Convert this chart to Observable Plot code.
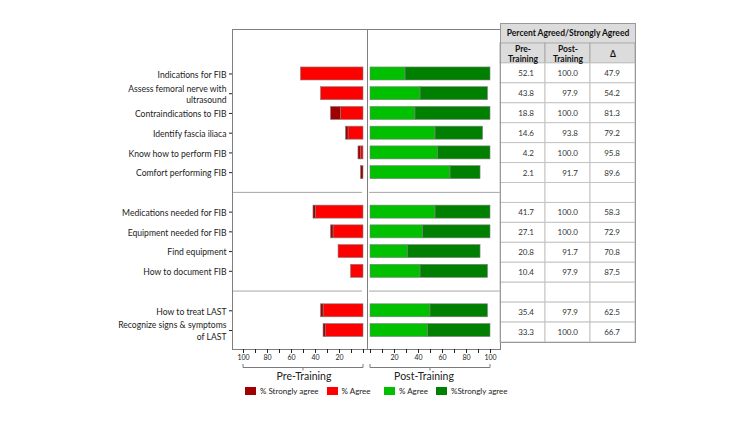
<!DOCTYPE html>
<html>
<head>
<meta charset="utf-8">
<script src="https://cdn.jsdelivr.net/npm/d3@7"></script>
<script src="https://cdn.jsdelivr.net/npm/@observablehq/plot@0.6"></script>
<style>
  html, body { margin: 0; padding: 0; background: #fff; }
  #wrap { position: relative; width: 750px; height: 422px; overflow: hidden; font-family: Lato, "Open Sans", sans-serif; }
  #wrap > * { position: absolute; margin: 0; }
</style>
</head>
<body>
<div id="wrap"></div>
<script>
// ---------- data ----------
const items = [
  "Indications for FIB",
  "Assess femoral nerve with\nultrasound",
  "Contraindications to FIB",
  "Identify fascia iliaca",
  "Know how to perform FIB",
  "Comfort performing FIB",
  "Medications needed for FIB",
  "Equipment needed for FIB",
  "Find equipment",
  "How to document FIB",
  "How to treat LAST",
  "Recognize signs & symptoms\nof LAST"
];
const sections = [1, 1, 1, 1, 1, 1, 2, 2, 2, 2, 3, 3];

// bar values (percent of respondents)
const preAgree      = [52.1, 35.4, 18.8, 12.5, 2.1, 0.0, 39.6, 25.0, 20.8, 10.4, 33.3, 31.2];
const preStrongly   = [0.0, 0.0, 8.3, 2.1, 2.1, 2.1, 2.1, 2.1, 0.0, 0.0, 2.1, 2.1];
const postAgree     = [29.2, 41.7, 37.5, 54.2, 56.2, 66.7, 54.2, 43.8, 31.2, 41.7, 50.0, 47.9];
const postStrongly  = [70.8, 56.2, 62.5, 39.6, 43.8, 25.0, 45.8, 56.2, 60.5, 56.2, 47.9, 52.1];

// table values
const tableTitle = "Percent Agreed/Strongly Agreed";
const tableCols = ["pre", "post", "delta"];
const tableHeads = ["Pre-\nTraining", "Post-\nTraining", "\u0394"];
const tablePre   = [52.1, 43.8, 18.8, 14.6, 4.2, 2.1, 41.7, 27.1, 20.8, 10.4, 35.4, 33.3];
const tablePost  = [100.0, 97.9, 100.0, 93.8, 100.0, 91.7, 100.0, 100.0, 91.7, 97.9, 97.9, 100.0];
const tableDelta = [47.9, 54.2, 81.3, 79.2, 95.8, 89.6, 58.3, 72.9, 70.8, 87.5, 62.5, 66.7];

const xTicks = [0, 10, 20, 30, 40, 50, 60, 70, 80, 90, 100];
const xTickLabels = [20, 40, 60, 80, 100];

// ---------- styling ----------
const FONT = "Lato, 'Open Sans', sans-serif";
const RED = "#FF0000", DKRED = "#A00000", GREEN = "#00C000", DKGREEN = "#008000";
const FRAME = "#7f7f7f", SEP = "#a6a6a6", EDGE = "#808080", HEAD = "#DCDCDC";

// rows with section gaps
const rowKeys = [];
items.forEach((it, i) => {
  if (i > 0 && sections[i] !== sections[i - 1]) rowKeys.push("gap" + sections[i]);
  rowKeys.push(it);
});
const gapKeys = rowKeys.filter(k => k.startsWith("gap"));

const preData = items.flatMap((it, i) => [
  {item: it, series: "Agree", value: preAgree[i]},
  {item: it, series: "Strongly agree", value: preStrongly[i]}
]).filter(d => d.value > 0);
const postData = items.flatMap((it, i) => [
  {item: it, series: "Agree", value: postAgree[i]},
  {item: it, series: "Strongly agree", value: postStrongly[i]}
]).filter(d => d.value > 0);

const yScale = {domain: rowKeys, round: false, paddingInner: 0.34, paddingOuter: 0.17, insetTop: 34.6, insetBottom: 9.1};
const common = {height: 385, marginTop: 29, marginBottom: 36,
  style: {background: "transparent", overflow: "visible", fontFamily: FONT, color: "#222"}};

function bracket(label, labelShift) {
  return (index, scales, values, dims) => {
    const a = scales.x(100), b = scales.x(0);
    const lo = Math.min(a, b), hi = Math.max(a, b), mid = scales.x(50);
    const y0 = dims.height - dims.marginBottom + 15;
    const g = d3.create("svg:g");
    g.append("path")
      .attr("d", `M${lo},${y0}V${y0 + 3.5}H${hi}V${y0}M${mid},${y0 + 3.5}v3`)
      .attr("fill", "none").attr("stroke", "#7a7a7a");
    g.append("text")
      .attr("x", mid + labelShift).attr("y", y0 + 13)
      .attr("text-anchor", "middle").attr("dominant-baseline", "middle")
      .attr("fill", "#222").attr("font-size", 10.5).attr("font-family", FONT)
      .text(label);
    return g.node();
  };
}

const xAxis = () => Plot.axisX({
  ticks: xTicks, tickFormat: d => xTickLabels.includes(d) ? d : "",
  tickSize: 4, tickPadding: 2, fontSize: 7, label: null
});

// ---------- pre-training panel ----------
const plotA = Plot.plot({
  ...common,
  width: 367, marginLeft: 232, marginRight: 0,
  x: {domain: [0, 100], reverse: true, insetLeft: 11, insetRight: 4},
  y: yScale,
  color: {domain: ["Agree", "Strongly agree"], range: [RED, DKRED]},
  marks: [
    Plot.ruleY(gapKeys, {stroke: SEP, insetRight: 5}),
    Plot.barX(preData, Plot.stackX({y: "item", x: "value", fill: "series", stroke: EDGE, strokeWidth: 0.6})),
    Plot.frame({stroke: FRAME}),
    Plot.axisY({ticks: items, tickSize: 3, tickPadding: 3, fontSize: 8.6, lineHeight: 1.35, label: null}),
    xAxis(),
    bracket("Pre-Training", 1)
  ]
});
plotA.style.left = "0px"; plotA.style.top = "0px";

// ---------- post-training panel ----------
const plotB = Plot.plot({
  ...common,
  width: 140, marginLeft: 0, marginRight: 7,
  x: {domain: [0, 100], insetLeft: 3, insetRight: 10},
  y: {...yScale, axis: null},
  color: {domain: ["Agree", "Strongly agree"], range: [GREEN, DKGREEN]},
  marks: [
    Plot.ruleY(gapKeys, {stroke: SEP, insetLeft: 2}),
    Plot.barX(postData, Plot.stackX({y: "item", x: "value", fill: "series", stroke: EDGE, strokeWidth: 0.6})),
    Plot.frame({stroke: FRAME}),
    xAxis(),
    bracket("Post-Training", -6)
  ]
});
plotB.style.left = "367px"; plotB.style.top = "0px";

// ---------- table ----------
const tableRows = items.map((it, i) => ({item: it, pre: tablePre[i], post: tablePost[i], delta: tableDelta[i]}));
const bodyCells = d3.cross(rowKeys, tableCols);
const numText = (key, dx) => Plot.text(tableRows, {
  x: () => key, y: "item", text: d => d[key].toFixed(1),
  textAnchor: "end", dx, fontSize: 8, fill: "#333"
});
const plotC = Plot.plot({
  width: 145, height: 350, marginLeft: 5, marginRight: 5, marginTop: 23, marginBottom: 8,
  style: {background: "transparent", overflow: "visible", fontFamily: FONT, color: "#222"},
  x: {domain: tableCols, axis: null, padding: 0, round: false},
  y: {domain: ["h1", "h2", ...rowKeys], axis: null, padding: 0, round: false},
  marks: [
    Plot.cell(tableCols, {x: d => d, y: () => "h1", fill: HEAD, inset: 0}),
    Plot.cell(tableCols, {x: d => d, y: () => "h2", fill: HEAD, stroke: "#a8a8a8", inset: 0}),
    Plot.cell(bodyCells, {x: d => d[1], y: d => d[0], fill: "white", stroke: "#c4c4c4", inset: 0}),
    Plot.frame({stroke: "#999"}),
    Plot.text([tableTitle], {x: () => "post", y: () => "h1", fontWeight: "bold", fontSize: 8.5, fill: "#111"}),
    Plot.text(tableHeads, {x: (d, i) => tableCols[i], y: () => "h2", fontWeight: "bold", fontSize: 8.5, lineHeight: 1.25, fill: "#111"}),
    numText("pre", 11),
    numText("post", 10),
    numText("delta", 7)
  ]
});
plotC.style.left = "495px"; plotC.style.top = "0px";

// ---------- legends ----------
const legStyle = {fontFamily: FONT, fontSize: "8px", color: "#222", background: "transparent"};
const legA = Plot.legend({
  color: {type: "categorical", domain: ["% Strongly agree", "% Agree"], range: [DKRED, RED]},
  swatchWidth: 11, swatchHeight: 8, style: legStyle
});
const legB = Plot.legend({
  color: {type: "categorical", domain: ["% Agree", "%Strongly agree"], range: [GREEN, DKGREEN]},
  swatchWidth: 11, swatchHeight: 8, style: legStyle
});
legA.style.left = "245px"; legA.style.top = "374px";
legB.style.left = "384px"; legB.style.top = "374px";

const wrap = document.getElementById("wrap");
wrap.append(plotA, plotB, plotC, legA, legB);
</script>
</body>
</html>
